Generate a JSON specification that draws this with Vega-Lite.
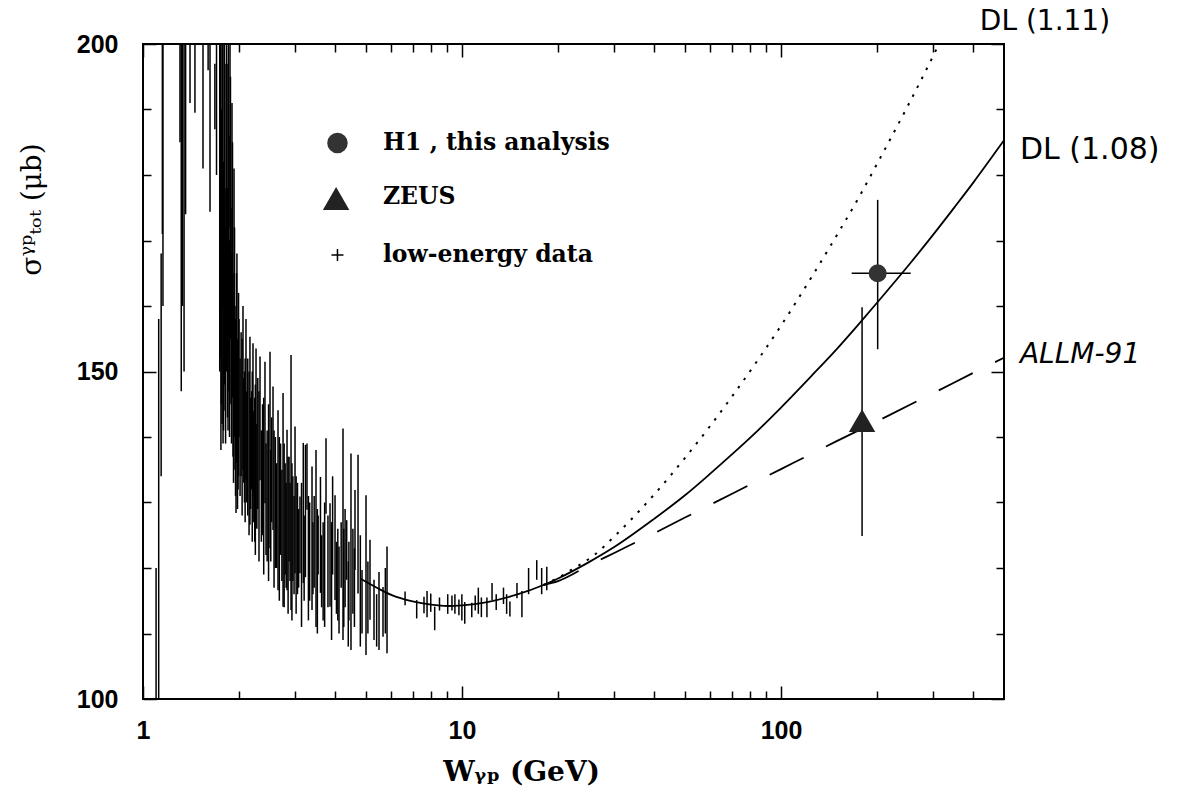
{
  "$schema": "https://vega.github.io/schema/vega-lite/v6.json",
  "width": 861,
  "height": 655,
  "autosize": "none",
  "padding": {"left": 143, "top": 44, "right": 199, "bottom": 101},
  "background": "white",
  "config": {
    "view": {"stroke": "black", "strokeWidth": 2},
    "axis": {
      "domain": false, "grid": false, "ticks": true,
      "tickColor": "black", "tickWidth": 1.5,
      "labelColor": "black", "titleColor": "black",
      "labelFont": "Liberation Sans", "labelFontWeight": "bold", "labelFontSize": 25,
      "labelOverlap": false, "labelFlush": false
    }
  },
  "datasets": {
    "low": [
      {"W": 1.099, "lo": 88, "hi": 120}, {"W": 1.12, "lo": 92, "hi": 158}, {"W": 1.14, "lo": 134, "hi": 168},
      {"W": 1.15, "lo": 171, "hi": 230}, {"W": 1.155, "lo": 160, "hi": 215},
      {"W": 1.306, "lo": 185, "hi": 215}, {"W": 1.318, "lo": 147, "hi": 205}, {"W": 1.33, "lo": 160, "hi": 220},
      {"W": 1.345, "lo": 150, "hi": 212}, {"W": 1.36, "lo": 174, "hi": 218}, {"W": 1.404, "lo": 191, "hi": 215},
      {"W": 1.455, "lo": 189.5, "hi": 214}, {"W": 1.542, "lo": 181, "hi": 216}, {"W": 1.6, "lo": 196, "hi": 212},
      {"W": 1.622, "lo": 174.4, "hi": 205}, {"W": 1.68, "lo": 187, "hi": 197}, {"W": 1.7, "lo": 180, "hi": 202},
      {"W": 1.74, "lo": 150, "hi": 212}, {"W": 1.755, "lo": 138, "hi": 180}, {"W": 1.769, "lo": 142, "hi": 200},
      {"W": 1.782, "lo": 139, "hi": 170}, {"W": 1.795, "lo": 150, "hi": 205}, {"W": 1.808, "lo": 144, "hi": 178},
      {"W": 1.821, "lo": 155, "hi": 197}, {"W": 1.834, "lo": 160, "hi": 197}, {"W": 1.847, "lo": 141, "hi": 168},
      {"W": 1.86, "lo": 147, "hi": 186}, {"W": 1.874, "lo": 172, "hi": 210}, {"W": 1.887, "lo": 145, "hi": 175},
      {"W": 1.901, "lo": 150, "hi": 191}, {"W": 1.915, "lo": 137, "hi": 165}, {"W": 1.929, "lo": 142, "hi": 181},
      {"W": 1.943, "lo": 135, "hi": 160}, {"W": 1.957, "lo": 128.4, "hi": 150}, {"W": 1.97, "lo": 138, "hi": 168},
      {"W": 1.986, "lo": 132, "hi": 152}, {"W": 2.0, "lo": 140, "hi": 158},
      {"W": 1.75, "lo": 152, "hi": 215}, {"W": 1.762, "lo": 145, "hi": 190}, {"W": 1.775, "lo": 160, "hi": 225},
      {"W": 1.788, "lo": 141, "hi": 182}, {"W": 1.8, "lo": 148, "hi": 210}, {"W": 1.815, "lo": 139, "hi": 172},
      {"W": 1.828, "lo": 150, "hi": 200}, {"W": 1.84, "lo": 143, "hi": 178}, {"W": 1.853, "lo": 152, "hi": 215},
      {"W": 1.867, "lo": 140, "hi": 170}, {"W": 1.88, "lo": 155, "hi": 195}, {"W": 1.894, "lo": 139, "hi": 168},
      {"W": 1.908, "lo": 146, "hi": 185}, {"W": 1.922, "lo": 133, "hi": 160}, {"W": 1.936, "lo": 140, "hi": 172},
      {"W": 1.95, "lo": 131, "hi": 158}, {"W": 1.964, "lo": 136, "hi": 165}, {"W": 1.978, "lo": 129, "hi": 155},
      {"W": 1.993, "lo": 134, "hi": 162}, {"W": 2.015, "lo": 131, "hi": 152}, {"W": 2.045, "lo": 128, "hi": 155},
      {"W": 2.07, "lo": 133, "hi": 149}, {"W": 2.09, "lo": 127, "hi": 152}, {"W": 2.115, "lo": 130, "hi": 147},
      {"W": 2.15, "lo": 125, "hi": 150}, {"W": 2.175, "lo": 129, "hi": 146}, {"W": 2.2, "lo": 124, "hi": 150},
      {"W": 2.225, "lo": 127, "hi": 144}, {"W": 2.25, "lo": 122, "hi": 148}, {"W": 2.275, "lo": 126, "hi": 142},
      {"W": 2.31, "lo": 121, "hi": 147}, {"W": 2.35, "lo": 124, "hi": 141}, {"W": 2.39, "lo": 119, "hi": 146},
      {"W": 2.43, "lo": 122, "hi": 139}, {"W": 2.475, "lo": 118, "hi": 145}, {"W": 2.515, "lo": 121, "hi": 138},
      {"W": 2.575, "lo": 117, "hi": 141}, {"W": 2.625, "lo": 120, "hi": 136}, {"W": 2.675, "lo": 115, "hi": 140},
      {"W": 2.725, "lo": 118, "hi": 135}, {"W": 2.77, "lo": 114, "hi": 139}, {"W": 2.81, "lo": 117, "hi": 133},
      {"W": 2.85, "lo": 113, "hi": 137}, {"W": 2.89, "lo": 118, "hi": 133}, {"W": 2.93, "lo": 112, "hi": 136},
      {"W": 2.975, "lo": 116, "hi": 131}, {"W": 3.02, "lo": 113, "hi": 134}, {"W": 3.075, "lo": 117, "hi": 129},
      {"W": 3.14, "lo": 111, "hi": 133}, {"W": 3.2, "lo": 115, "hi": 128}, {"W": 3.3, "lo": 112, "hi": 131},
      {"W": 3.41, "lo": 116, "hi": 127}, {"W": 3.52, "lo": 110, "hi": 129}, {"W": 3.63, "lo": 114, "hi": 125},
      {"W": 3.71, "lo": 111, "hi": 130}, {"W": 3.9, "lo": 109, "hi": 127}, {"W": 4.04, "lo": 113, "hi": 124},
      {"W": 4.26, "lo": 111, "hi": 126}, {"W": 4.4, "lo": 108, "hi": 121}, {"W": 4.6, "lo": 111, "hi": 123},
      {"W": 4.8, "lo": 108, "hi": 125}, {"W": 5.07, "lo": 110, "hi": 121}, {"W": 5.4, "lo": 108, "hi": 116},
      {"W": 5.75, "lo": 110, "hi": 120},
      {"W": 2.03, "lo": 134, "hi": 156}, {"W": 2.058, "lo": 135, "hi": 160}, {"W": 2.08, "lo": 130, "hi": 150},
      {"W": 2.103, "lo": 133.4, "hi": 158}, {"W": 2.13, "lo": 128, "hi": 152}, {"W": 2.164, "lo": 126.6, "hi": 155.3},
      {"W": 2.19, "lo": 132, "hi": 147}, {"W": 2.212, "lo": 130.9, "hi": 154.3}, {"W": 2.24, "lo": 124, "hi": 146},
      {"W": 2.261, "lo": 126.2, "hi": 153.5}, {"W": 2.29, "lo": 129, "hi": 149}, {"W": 2.327, "lo": 133.4, "hi": 152.3},
      {"W": 2.37, "lo": 125, "hi": 145}, {"W": 2.412, "lo": 129.9, "hi": 151.5}, {"W": 2.45, "lo": 121, "hi": 141},
      {"W": 2.501, "lo": 123.0, "hi": 153.0}, {"W": 2.53, "lo": 127, "hi": 143}, {"W": 2.556, "lo": 125.8, "hi": 147.7},
      {"W": 2.6, "lo": 120, "hi": 140}, {"W": 2.65, "lo": 116.6, "hi": 144.1}, {"W": 2.7, "lo": 122, "hi": 139},
      {"W": 2.748, "lo": 114.1, "hi": 146.7}, {"W": 2.79, "lo": 119, "hi": 136}, {"W": 2.828, "lo": 116.6, "hi": 141.1},
      {"W": 2.87, "lo": 121, "hi": 137}, {"W": 2.911, "lo": 113.6, "hi": 152.5}, {"W": 2.95, "lo": 118, "hi": 134},
      {"W": 2.996, "lo": 119.2, "hi": 141.6}, {"W": 3.05, "lo": 116, "hi": 133}, {"W": 3.105, "lo": 119.2, "hi": 130.9},
      {"W": 3.18, "lo": 117.7, "hi": 139.1}, {"W": 3.23, "lo": 118.6, "hi": 138.8}, {"W": 3.266, "lo": 128.9, "hi": 139.0},
      {"W": 3.33, "lo": 115, "hi": 130}, {"W": 3.387, "lo": 113.6, "hi": 135.5}, {"W": 3.44, "lo": 117, "hi": 131},
      {"W": 3.486, "lo": 111.0, "hi": 138.0}, {"W": 3.54, "lo": 119, "hi": 128}, {"W": 3.6, "lo": 116.2, "hi": 133.9},
      {"W": 3.67, "lo": 112, "hi": 127}, {"W": 3.747, "lo": 128.3, "hi": 139.8}, {"W": 3.8, "lo": 114, "hi": 128},
      {"W": 3.857, "lo": 114.1, "hi": 129.9}, {"W": 3.93, "lo": 119, "hi": 134}, {"W": 3.999, "lo": 115.1, "hi": 131.1},
      {"W": 4.08, "lo": 112, "hi": 126}, {"W": 4.116, "lo": 110.0, "hi": 123.3}, {"W": 4.18, "lo": 117, "hi": 127},
      {"W": 4.236, "lo": 109.0, "hi": 141.3}, {"W": 4.3, "lo": 114, "hi": 129}, {"W": 4.35, "lo": 118.2, "hi": 127.3},
      {"W": 4.42, "lo": 112, "hi": 124}, {"W": 4.487, "lo": 107.5, "hi": 137.5}, {"W": 4.55, "lo": 113, "hi": 126},
      {"W": 4.619, "lo": 119.7, "hi": 131.9}, {"W": 4.721, "lo": 116.1, "hi": 137.3}, {"W": 4.859, "lo": 110.0, "hi": 119.7},
      {"W": 5.001, "lo": 106.7, "hi": 131.1}, {"W": 5.147, "lo": 112.1, "hi": 124.3}, {"W": 5.298, "lo": 109.0, "hi": 118.2},
      {"W": 5.493, "lo": 107.5, "hi": 119.4}, {"W": 5.654, "lo": 109.5, "hi": 117.1}, {"W": 5.82, "lo": 107.0, "hi": 123.3},
      {"W": 6.63, "lo": 114.3, "hi": 116.4}, {"W": 7.21, "lo": 112.3, "hi": 115.1}, {"W": 7.6, "lo": 113.1, "hi": 115.6},
      {"W": 7.77, "lo": 112.5, "hi": 116.5}, {"W": 7.98, "lo": 113.3, "hi": 116.1}, {"W": 8.21, "lo": 110.5, "hi": 114.1},
      {"W": 8.5, "lo": 113.5, "hi": 115.5}, {"W": 9.02, "lo": 113.0, "hi": 116.0}, {"W": 9.3, "lo": 113.5, "hi": 115.8},
      {"W": 9.5, "lo": 113.0, "hi": 116.0}, {"W": 9.78, "lo": 112.8, "hi": 115.2}, {"W": 9.99, "lo": 112.0, "hi": 116.0},
      {"W": 10.2, "lo": 111.5, "hi": 114.8}, {"W": 10.73, "lo": 112.5, "hi": 114.7}, {"W": 11.0, "lo": 113.5, "hi": 115.8},
      {"W": 11.25, "lo": 113.0, "hi": 117.0}, {"W": 11.5, "lo": 112.5, "hi": 115.5}, {"W": 11.97, "lo": 112.5, "hi": 115.5},
      {"W": 12.42, "lo": 115.1, "hi": 117.7}, {"W": 12.8, "lo": 113.6, "hi": 116.0}, {"W": 13.49, "lo": 114.5, "hi": 117.0},
      {"W": 13.8, "lo": 113.0, "hi": 116.0}, {"W": 14.13, "lo": 112.6, "hi": 114.9}, {"W": 14.87, "lo": 115.4, "hi": 117.7},
      {"W": 15.41, "lo": 112.5, "hi": 116.5}, {"W": 16.17, "lo": 116.0, "hi": 120.0}, {"W": 17.15, "lo": 118.2, "hi": 121.2},
      {"W": 17.77, "lo": 116.0, "hi": 120.0}, {"W": 18.44, "lo": 116.6, "hi": 120.2}
    ],
    "curves": [
      {"c": "DL108", "W": 4.8, "s": 118.4}, {"c": "DL108", "W": 5, "s": 117.9}, {"c": "DL108", "W": 5.5, "s": 116.8},
      {"c": "DL108", "W": 6, "s": 115.9}, {"c": "DL108", "W": 7, "s": 114.9}, {"c": "DL108", "W": 8, "s": 114.4},
      {"c": "DL108", "W": 9, "s": 114.2}, {"c": "DL108", "W": 10, "s": 114.3}, {"c": "DL108", "W": 12, "s": 114.8},
      {"c": "DL108", "W": 15, "s": 116.0}, {"c": "DL108", "W": 18, "s": 117.4}, {"c": "DL108", "W": 20, "s": 118.4},
      {"c": "DL108", "W": 25, "s": 120.9}, {"c": "DL108", "W": 30, "s": 123.2}, {"c": "DL108", "W": 40, "s": 127.5},
      {"c": "DL108", "W": 50, "s": 131.1}, {"c": "DL108", "W": 60, "s": 134.4}, {"c": "DL108", "W": 70, "s": 137.3},
      {"c": "DL108", "W": 85, "s": 141.1}, {"c": "DL108", "W": 100, "s": 144.5}, {"c": "DL108", "W": 125, "s": 149.4},
      {"c": "DL108", "W": 150, "s": 153.5}, {"c": "DL108", "W": 175, "s": 157.2}, {"c": "DL108", "W": 200, "s": 160.5},
      {"c": "DL108", "W": 250, "s": 166.1}, {"c": "DL108", "W": 300, "s": 170.9}, {"c": "DL108", "W": 350, "s": 175.1},
      {"c": "DL108", "W": 400, "s": 178.8}, {"c": "DL108", "W": 450, "s": 182.2}, {"c": "DL108", "W": 500, "s": 185.3},
      {"c": "DL111", "W": 18, "s": 117.4}, {"c": "DL111", "W": 20, "s": 118.5}, {"c": "DL111", "W": 22, "s": 119.7},
      {"c": "DL111", "W": 26, "s": 122.0}, {"c": "DL111", "W": 30, "s": 124.8}, {"c": "DL111", "W": 40, "s": 131.2},
      {"c": "DL111", "W": 50, "s": 136.8}, {"c": "DL111", "W": 60, "s": 141.7}, {"c": "DL111", "W": 70, "s": 146.1},
      {"c": "DL111", "W": 85, "s": 151.9}, {"c": "DL111", "W": 100, "s": 157.0}, {"c": "DL111", "W": 125, "s": 164.5},
      {"c": "DL111", "W": 150, "s": 170.9}, {"c": "DL111", "W": 175, "s": 176.5}, {"c": "DL111", "W": 200, "s": 181.7},
      {"c": "DL111", "W": 250, "s": 190.6}, {"c": "DL111", "W": 300, "s": 198.2}, {"c": "DL111", "W": 320, "s": 201.0},
      {"c": "ALLM", "W": 18, "s": 117.4}, {"c": "ALLM", "W": 20, "s": 118.0}, {"c": "ALLM", "W": 25, "s": 120.4},
      {"c": "ALLM", "W": 30, "s": 122.3}, {"c": "ALLM", "W": 40, "s": 125.3}, {"c": "ALLM", "W": 50, "s": 127.7},
      {"c": "ALLM", "W": 70, "s": 131.3}, {"c": "ALLM", "W": 100, "s": 135.1}, {"c": "ALLM", "W": 150, "s": 139.4},
      {"c": "ALLM", "W": 200, "s": 142.4}, {"c": "ALLM", "W": 300, "s": 146.7}, {"c": "ALLM", "W": 441, "s": 150.8},
      {"c": "ALLM", "W": 500, "s": 152.1}
    ],
    "h1": [{"W": 200.9, "s": 165.0, "lo": 153.4, "hi": 176.2, "Wlo": 166.5, "Whi": 255}],
    "zeus": [{"W": 179.5, "s": 142.5, "lo": 124.9, "hi": 159.8}]
  },
  "resolve": {"axis": {"x": "independent", "y": "independent"}},
  "layer": [
    {
      "data": {"name": "low"},
      "mark": {"type": "rule", "color": "black", "strokeWidth": 1.5, "clip": true},
      "encoding": {
        "x": {"field": "W", "type": "quantitative",
          "scale": {"type": "log", "domain": [1, 500], "nice": false},
          "axis": {"orient": "bottom",
            "values": [1, 2, 3, 4, 5, 6, 7, 8, 9, 10, 20, 30, 40, 50, 60, 70, 80, 90, 100, 200, 300, 400],
            "labelExpr": "(datum.value == 1 || datum.value == 10 || datum.value == 100) ? format(datum.value, 'd') : ''",
            "tickSize": {"condition": {"test": "datum.value == 1 || datum.value == 10 || datum.value == 100", "value": -13}, "value": -8},
            "labelPadding": 32,
            "title": "Wᵧₚ  (GeV)", "titleFont": "DejaVu Serif", "titleFontSize": 28, "titleFontWeight": "bold",
            "titleX": 378, "titleY": 73, "titleAlign": "center", "titleBaseline": "middle"}},
        "y": {"field": "lo", "type": "quantitative",
          "scale": {"domain": [100, 200], "nice": false, "zero": false},
          "axis": {"orient": "left",
            "values": [100, 110, 120, 130, 140, 150, 160, 170, 180, 190, 200],
            "labelExpr": "(datum.value == 100 || datum.value == 150 || datum.value == 200) ? format(datum.value, 'd') : ''",
            "tickSize": {"condition": {"test": "datum.value == 100 || datum.value == 150 || datum.value == 200", "value": -13}, "value": -8},
            "labelPadding": 38,
            "title": "σᵞᵖₜₒₜ  (μb)", "titleFont": "DejaVu Serif", "titleFontSize": 28, "titleFontWeight": "normal",
            "titleX": -111, "titleY": 165, "titleAngle": -90, "titleAlign": "center", "titleBaseline": "middle"}},
        "y2": {"field": "hi"}
      }
    },
    {
      "data": {"name": "curves"},
      "transform": [{"filter": "datum.c == 'DL108'"}],
      "mark": {"type": "line", "color": "black", "strokeWidth": 1.8, "interpolate": "monotone", "clip": true},
      "encoding": {
        "x": {"field": "W", "type": "quantitative", "scale": {"type": "log", "domain": [1, 500], "nice": false},
          "axis": {"orient": "top",
            "values": [1, 2, 3, 4, 5, 6, 7, 8, 9, 10, 20, 30, 40, 50, 60, 70, 80, 90, 100, 200, 300, 400],
            "labels": false, "title": null,
            "tickSize": {"condition": {"test": "datum.value == 1 || datum.value == 10 || datum.value == 100", "value": -13}, "value": -8}}},
        "y": {"field": "s", "type": "quantitative",
          "axis": {"orient": "right",
            "values": [100, 110, 120, 130, 140, 150, 160, 170, 180, 190, 200],
            "labels": false, "title": null,
            "tickSize": {"condition": {"test": "datum.value == 100 || datum.value == 150 || datum.value == 200", "value": -13}, "value": -8}}}
      }
    },
    {
      "data": {"name": "curves"},
      "transform": [{"filter": "datum.c == 'DL111'"}],
      "mark": {"type": "line", "color": "black", "strokeWidth": 2, "strokeDash": [2.5, 7.5], "strokeCap": "butt", "interpolate": "monotone", "clip": true},
      "encoding": {
        "x": {"field": "W", "type": "quantitative", "axis": null},
        "y": {"field": "s", "type": "quantitative", "axis": null}
      }
    },
    {
      "data": {"name": "curves"},
      "transform": [{"filter": "datum.c == 'ALLM'"}],
      "mark": {"type": "line", "color": "black", "strokeWidth": 1.8, "strokeDash": [38, 25], "strokeCap": "butt", "interpolate": "monotone", "clip": true},
      "encoding": {
        "x": {"field": "W", "type": "quantitative", "axis": null},
        "y": {"field": "s", "type": "quantitative", "axis": null}
      }
    },
    {
      "data": {"name": "h1"},
      "mark": {"type": "rule", "color": "black", "strokeWidth": 1.5},
      "encoding": {
        "x": {"field": "W", "type": "quantitative", "axis": null},
        "y": {"field": "lo", "type": "quantitative", "axis": null},
        "y2": {"field": "hi"}
      }
    },
    {
      "data": {"name": "h1"},
      "mark": {"type": "rule", "color": "black", "strokeWidth": 1.5},
      "encoding": {
        "x": {"field": "Wlo", "type": "quantitative", "axis": null},
        "x2": {"field": "Whi"},
        "y": {"field": "s", "type": "quantitative", "axis": null}
      }
    },
    {
      "data": {"name": "h1"},
      "mark": {"type": "point", "shape": "circle", "filled": true, "size": 324, "color": "#333333", "opacity": 1},
      "encoding": {
        "x": {"field": "W", "type": "quantitative", "axis": null},
        "y": {"field": "s", "type": "quantitative", "axis": null}
      }
    },
    {
      "data": {"name": "zeus"},
      "mark": {"type": "rule", "color": "black", "strokeWidth": 1.5},
      "encoding": {
        "x": {"field": "W", "type": "quantitative", "axis": null},
        "y": {"field": "lo", "type": "quantitative", "axis": null},
        "y2": {"field": "hi"}
      }
    },
    {
      "data": {"name": "zeus"},
      "mark": {"type": "point", "shape": "triangle-up", "filled": true, "size": 700, "color": "#222222", "opacity": 1},
      "encoding": {
        "x": {"field": "W", "type": "quantitative", "axis": null},
        "y": {"field": "s", "type": "quantitative", "axis": null}
      }
    },
    {
      "data": {"values": [{"label": "H1 , this analysis"}]},
      "mark": {"type": "point", "shape": "circle", "filled": true, "size": 420, "color": "#333333", "opacity": 1},
      "encoding": {
        "x": {"datum": 4.07, "type": "quantitative", "axis": null},
        "y": {"datum": 184.9, "type": "quantitative", "axis": null}
      }
    },
    {
      "data": {"values": [{"label": "ZEUS"}]},
      "mark": {"type": "point", "shape": "triangle-up", "filled": true, "size": 700, "color": "#222222", "opacity": 1},
      "encoding": {
        "x": {"datum": 4.03, "type": "quantitative", "axis": null},
        "y": {"datum": 176.4, "type": "quantitative", "axis": null}
      }
    },
    {
      "data": {"values": [{"label": "low-energy data"}]},
      "mark": {"type": "point", "shape": "M-1,0H1M0,-1V1", "filled": false, "size": 144, "color": "black", "strokeWidth": 1.5, "opacity": 1},
      "encoding": {
        "x": {"datum": 4.07, "type": "quantitative", "axis": null},
        "y": {"datum": 167.8, "type": "quantitative", "axis": null}
      }
    },
    {
      "data": {"values": [{"label": "H1 , this analysis"}]},
      "mark": {"type": "text", "font": "DejaVu Serif", "fontWeight": "bold", "fontSize": 23.5, "align": "left", "baseline": "middle", "color": "black"},
      "encoding": {
        "x": {"datum": 5.65, "type": "quantitative", "axis": null},
        "y": {"datum": 184.9, "type": "quantitative", "axis": null},
        "text": {"field": "label"}
      }
    },
    {
      "data": {"values": [{"label": "ZEUS"}]},
      "mark": {"type": "text", "font": "DejaVu Serif", "fontWeight": "bold", "fontSize": 23.5, "align": "left", "baseline": "middle", "color": "black"},
      "encoding": {
        "x": {"datum": 5.65, "type": "quantitative", "axis": null},
        "y": {"datum": 176.6, "type": "quantitative", "axis": null},
        "text": {"field": "label"}
      }
    },
    {
      "data": {"values": [{"label": "low-energy data"}]},
      "mark": {"type": "text", "font": "DejaVu Serif", "fontWeight": "bold", "fontSize": 23.5, "align": "left", "baseline": "middle", "color": "black"},
      "encoding": {
        "x": {"datum": 5.65, "type": "quantitative", "axis": null},
        "y": {"datum": 167.8, "type": "quantitative", "axis": null},
        "text": {"field": "label"}
      }
    },
    {
      "data": {"values": [{"label": "DL (1.11)"}]},
      "mark": {"type": "text", "font": "DejaVu Sans", "fontSize": 28, "align": "left", "baseline": "middle", "color": "black", "clip": false},
      "encoding": {
        "x": {"datum": 420, "type": "quantitative", "axis": null},
        "y": {"datum": 203.4, "type": "quantitative", "axis": null},
        "text": {"field": "label"}
      }
    },
    {
      "data": {"values": [{"label": "DL (1.08)"}]},
      "mark": {"type": "text", "font": "DejaVu Sans", "fontSize": 30, "align": "left", "baseline": "middle", "color": "black", "clip": false},
      "encoding": {
        "x": {"datum": 561, "type": "quantitative", "axis": null},
        "y": {"datum": 183.8, "type": "quantitative", "axis": null},
        "text": {"field": "label"}
      }
    },
    {
      "data": {"values": [{"label": "ALLM-91"}]},
      "mark": {"type": "text", "font": "DejaVu Sans", "fontSize": 28, "fontStyle": "italic", "align": "left", "baseline": "middle", "color": "black", "clip": false},
      "encoding": {
        "x": {"datum": 561, "type": "quantitative", "axis": null},
        "y": {"datum": 152.5, "type": "quantitative", "axis": null},
        "text": {"field": "label"}
      }
    }
  ]
}
